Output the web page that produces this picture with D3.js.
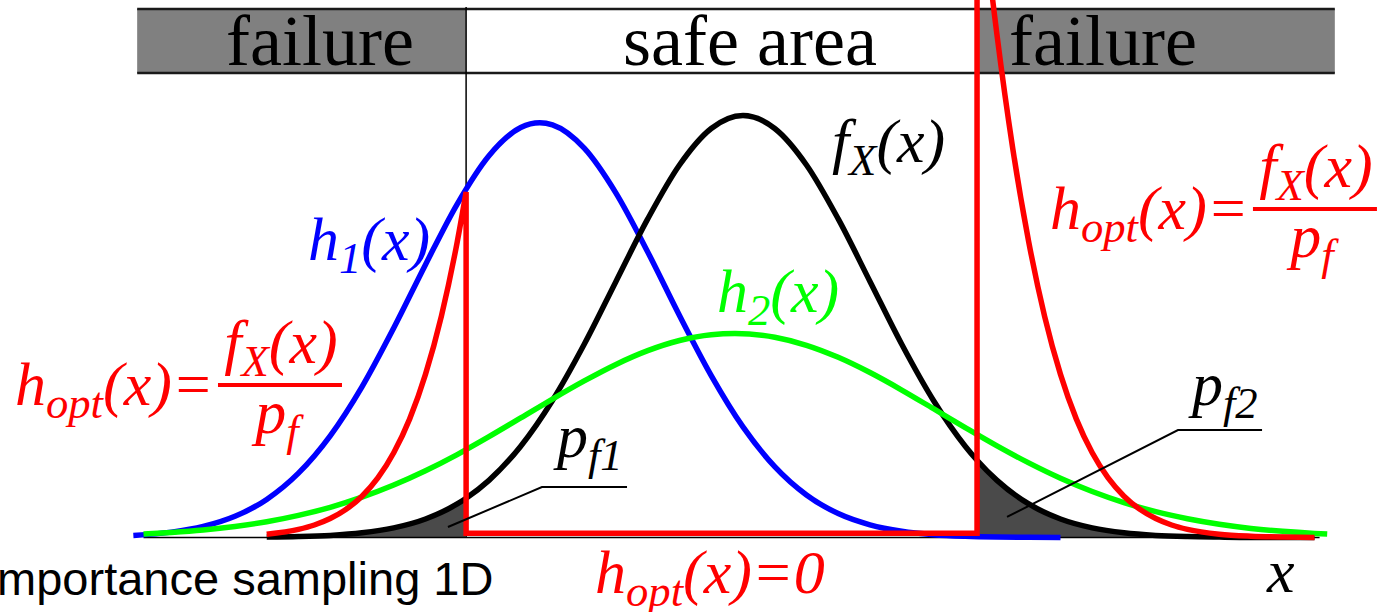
<!DOCTYPE html>
<html><head><meta charset="utf-8">
<script src="https://cdn.jsdelivr.net/npm/d3@7"></script>
<style>body{margin:0;background:#fff;} svg{display:block;}</style>
</head><body>
<svg id="chart" width="1378" height="612"></svg>
<script>
// ---------- data (x in units of sigma of f_X, y = density) ----------
const fxX = [-3.75,-3.5,-3.25,-3.0,-2.75,-2.5,-2.25,-2.18,-2.0,-1.75,-1.5,-1.25,-1.0,-0.75,-0.5,-0.25,0,0.25,0.5,0.75,1.0,1.25,1.5,1.75,1.843,2.0,2.25,2.5,2.75,3.0,3.25,3.5,3.75,4.0,4.25,4.5];
const fxY = [0.0004,0.0009,0.0020,0.0044,0.0091,0.0175,0.0317,0.0371,0.0540,0.0863,0.1295,0.1826,0.2420,0.3011,0.3521,0.3866,0.3989,0.3866,0.3521,0.3011,0.2420,0.1826,0.1295,0.0863,0.0730,0.0540,0.0317,0.0175,0.0091,0.0044,0.0020,0.0009,0.0004,0.0001,0.0001,0.0000];

const h1X = [-4.8,-4.5,-4.25,-4.0,-3.75,-3.5,-3.25,-3.0,-2.75,-2.5,-2.25,-2.0,-1.75,-1.6,-1.5,-1.25,-1.0,-0.75,-0.5,-0.25,0,0.25,0.5,0.75,1.0,1.25,1.5,1.75,2.0,2.25,2.5];
const h1Y = [0.0020,0.0051,0.0104,0.0200,0.0360,0.0608,0.0961,0.1424,0.1980,0.2579,0.3152,0.3609,0.3875,0.3920,0.3900,0.3680,0.3255,0.2699,0.2098,0.1530,0.1045,0.0670,0.0402,0.0226,0.0120,0.0059,0.0027,0.0012,0.0005,0.0002,0.0001];

const h2X = [-4.72,-4.5,-4.25,-4.0,-3.75,-3.5,-3.25,-3.0,-2.75,-2.5,-2.25,-2.0,-1.75,-1.5,-1.25,-1.0,-0.75,-0.5,-0.25,-0.063,0.25,0.5,0.75,1.0,1.25,1.5,1.75,2.0,2.25,2.5,2.75,3.0,3.25,3.5,3.75,4.0,4.25,4.5,4.6];
const h2Y = [0.0033,0.0048,0.0071,0.0104,0.0149,0.0209,0.0285,0.0381,0.0496,0.0631,0.0784,0.0953,0.1130,0.1309,0.1480,0.1636,0.1766,0.1862,0.1917,0.1928,0.1893,0.1817,0.1703,0.1559,0.1394,0.1217,0.1039,0.0866,0.0705,0.0560,0.0435,0.0330,0.0244,0.0177,0.0125,0.0086,0.0058,0.0038,0.0032];

const hoptLeftX = [-3.75,-3.5,-3.375,-3.25,-3.125,-3.0,-2.875,-2.75,-2.625,-2.5,-2.375,-2.25,-2.18];
const hoptLeftY = [0.0031,0.0077,0.0118,0.0179,0.0266,0.0390,0.0563,0.0801,0.1119,0.1542,0.2091,0.2794,0.3265];
const hoptRightX = [1.843,1.875,2.0,2.125,2.25,2.375,2.5,2.625,2.75,2.875,3.0,3.125,3.25,3.375,3.5,3.75,4.0,4.25,4.5];
const hoptRightY = [0.642,0.605,0.475,0.367,0.2794,0.2091,0.1542,0.1119,0.0801,0.0563,0.0390,0.0266,0.0179,0.0118,0.0077,0.0031,0.0012,0.0004,0.0001];
const hoptZero = 0.004;            // h_opt = 0 in the safe area (drawn just above the axis)

const limits = [-2.18, 1.843];     // limit states
const axisExtent = [-4.72, 4.54];
const regions = [
  {label:"failure",   from:-4.77, to:-2.18, fill:"#808080", labelAt:-3.33},
  {label:"safe area", from:-2.18, to:1.843, fill:"#ffffff", labelAt:0.055},
  {label:"failure",   from:1.843, to:4.66,  fill:"#808080", labelAt:2.835}
];
const leaderPf1 = [[-2.323,0.0099],[-1.583,0.0477],[-0.913,0.0477]];
const leaderPf2 = [[2.079,0.0194],[3.425,0.1016],[4.087,0.1016]];

// ---------- scales ----------
const W = 1378, H = 612;
const x = d3.scaleLinear().domain([-5.85, 5.0]).range([0, W]);
const y = d3.scaleLinear().domain([0, 0.4]).range([537.5, 114.3]);
const svg = d3.select("#chart");
const serif = "'Liberation Serif','Times New Roman',serif";

const zipXY = (a,b) => a.map((v,i)=>[v,b[i]]);
const smooth = d3.line().x(d=>x(d[0])).y(d=>y(d[1])).curve(d3.curveMonotoneX);
const straight = d3.line().x(d=>x(d[0])).y(d=>y(d[1]));

// ---------- header bar ----------
const barTop = 9, barBot = 73;
svg.selectAll("rect.region").data(regions).join("rect")
  .attr("x", d=>x(d.from)).attr("width", d=>x(d.to)-x(d.from))
  .attr("y", barTop).attr("height", barBot-barTop).attr("fill", d=>d.fill);
[barTop, barBot].forEach(yy => svg.append("line")
  .attr("x1", x(regions[0].from)).attr("x2", x(regions[2].to))
  .attr("y1", yy).attr("y2", yy).attr("stroke","#1a1a1a").attr("stroke-width",2.5));
svg.selectAll("text.region").data(regions).join("text")
  .attr("x", d=>x(d.labelAt)).attr("y", 65).attr("text-anchor","middle")
  .attr("font-family", serif).attr("font-size", 72).attr("fill","#000").text(d=>d.label);

// limit-state line (thin)
svg.append("line").attr("x1", x(limits[0])).attr("x2", x(limits[0]))
  .attr("y1", 7).attr("y2", y(0)).attr("stroke","#000").attr("stroke-width",1.5);

// ---------- failure probability areas ----------
const area = d3.area().x(d=>x(d[0])).y0(y(0)).y1(d=>y(d[1])).curve(d3.curveMonotoneX);
const fx = zipXY(fxX, fxY);
svg.append("path").attr("d", area(fx.filter(d=>d[0] <= limits[0]))).attr("fill","#4a4a4a");
svg.append("path").attr("d", area(fx.filter(d=>d[0] >= limits[1]))).attr("fill","#4a4a4a");

// axis baseline
svg.append("line").attr("x1", x(axisExtent[0])).attr("x2", x(axisExtent[1]))
  .attr("y1", y(0)).attr("y2", y(0)).attr("stroke","#000").attr("stroke-width",1.5);

// ---------- curves ----------
const SW = 5.5;
svg.append("path").attr("d", smooth(zipXY(h1X,h1Y))).attr("fill","none").attr("stroke","#0000ff").attr("stroke-width",SW);
svg.append("path").attr("d", smooth(fx)).attr("fill","none").attr("stroke","#000").attr("stroke-width",SW);
svg.append("path").attr("d", smooth(zipXY(h2X,h2Y))).attr("fill","none").attr("stroke","#00ff00").attr("stroke-width",SW);

const leftD = smooth(zipXY(hoptLeftX,hoptLeftY));
const midD = straight([[limits[0], hoptZero],[limits[0], hoptZero],[limits[1], hoptZero],[limits[1], hoptRightY[0]]]);
const rightD = smooth(zipXY(hoptRightX,hoptRightY));
svg.append("path").attr("d", leftD + midD.replace(/^M/,"L") + rightD.replace(/^M/,"L"))
  .attr("fill","none").attr("stroke","#ff0000").attr("stroke-width",SW).attr("stroke-linejoin","miter");

// leader lines
[leaderPf1, leaderPf2].forEach(pts => svg.append("path").attr("d", straight(pts))
  .attr("fill","none").attr("stroke","#000").attr("stroke-width",2));

// ---------- math labels ----------
function math(g, px, py, parts, color, size, anchor) {
  const t = g.append("text").attr("x",px).attr("y",py)
    .attr("font-family",serif).attr("font-style","italic").attr("font-size",size)
    .attr("fill",color).attr("text-anchor",anchor||"start");
  let cur = 0;
  parts.forEach(([s,sub]) => {
    const dy = sub ? size*0.21 : 0;
    t.append("tspan").attr("dy", dy-cur).attr("font-size", sub ? size*0.72 : size).text(s);
    cur = dy;
  });
  return t;
}
const FS = 62;
math(svg, x(0.70), y(0.355), [["f"],["X",1],["(x)"]], "#000", FS);
math(svg, x(-3.425), y(0.2623), [["h"],["1",1],["(x)"]], "#0000ff", FS);
math(svg, x(-0.205), y(0.2131), [["h"],["2",1],["(x)"]], "#00ff00", FS);
math(svg, x(-1.465), y(0.0761), [["p"],["f1",1]], "#000", FS);
math(svg, x(3.535), y(0.1252), [["p"],["f2",1]], "#000", FS);
math(svg, x(-1.165), y(-0.0525), [["h"],["opt",1],["(x)=0"]], "#ff0000", FS);
math(svg, x(4.126), y(-0.0515), [["x"]], "#000", FS);

const hoptFormulas = [[-5.732, 0.1441],[2.417, 0.3105]];
hoptFormulas.forEach(([u,v]) => {
  const g = svg.append("g").attr("transform", `translate(${x(u)},${y(v)})`);
  math(g, 0, 20, [["h"],["opt",1],["(x)="]], "#ff0000", FS);
  g.append("line").attr("x1",203).attr("x2",327).attr("y1",0).attr("y2",0)
    .attr("stroke","#ff0000").attr("stroke-width",4);
  math(g, 266, -22, [["f"],["X",1],["(x)"]], "#ff0000", FS, "middle");
  math(g, 262, 48, [["p"],["f",1]], "#ff0000", FS, "middle");
});

// caption
svg.append("text").attr("x",-16).attr("y",595)
  .attr("font-family","'Liberation Sans',Arial,sans-serif").attr("font-size",47)
  .attr("fill","#000").text("Importance sampling 1D");
</script>
</body></html>
